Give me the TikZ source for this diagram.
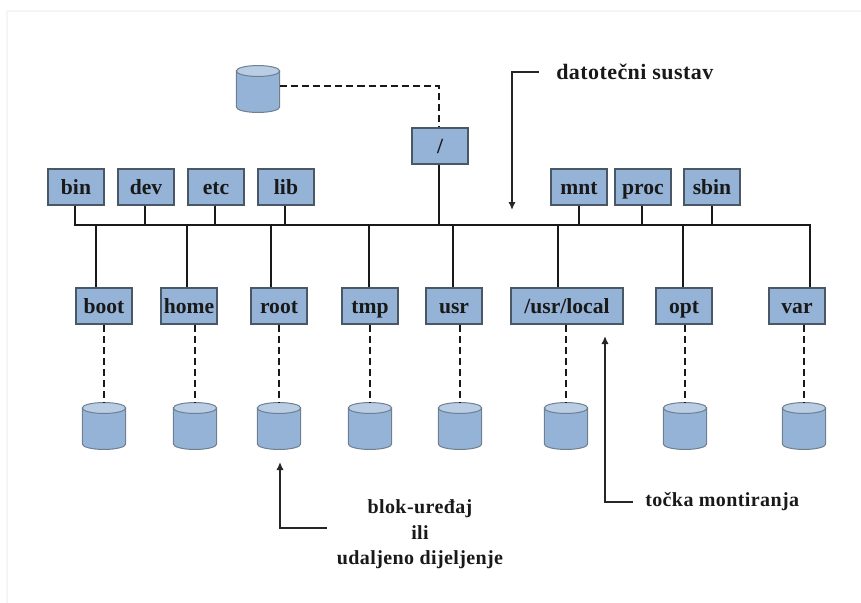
\documentclass[tikz,border=0pt]{standalone}
\usepackage{fontspec}
\setmainfont{Liberation Serif}
\newfontfamily\spacedfont[LetterSpace=2]{Liberation Serif}
\usetikzlibrary{arrows.meta}
\definecolor{boxblue}{HTML}{95B3D7}
\definecolor{boxedge}{HTML}{4A5766}
\definecolor{diskedge}{HTML}{6F7F8F}
\definecolor{disktop}{HTML}{B9CDE5}
\definecolor{framegray}{HTML}{F5F5F5}
\tikzset{
	dirbox/.style={draw=boxedge, fill=boxblue, line width=1pt, inner sep=0pt, minimum width=42pt, minimum height=27pt, text height=14pt, text depth=2.2pt, font=\fontsize{16.2}{18}\selectfont\bfseries, text=black!90},
	diskbox/.style={inner sep=0pt, minimum width=32.6pt, minimum height=35.2pt},
	diskline/.style={draw=diskedge, line width=0.75pt},
	busline/.style={line width=1.5pt, black!90},
	dashline/.style={line width=1.5pt, black!90, dash pattern=on 5.3pt off 3pt},
	noteline/.style={line width=1.5pt, black!85},
	notearrow/.style={noteline, -{Latex[length=6pt,width=5.5pt]}},
	notetext/.style={font=\fontsize{15}{19}\selectfont\bfseries\spacedfont, text=black!90, inner sep=0pt, align=center}
}
\def\disknode(#1)(#2,#3){
	\node[diskbox] (#1) at (#2, #3) {};
	\begin{scope}[shift={(#1.center)}, x=1pt, y=1pt]
		\draw[diskline, fill=boxblue] (-16.3, 13.5) -- (-16.3, -13.5) arc[start angle=180, end angle=360, x radius=16.3, y radius=4.1] -- (16.3, 13.5) -- cycle;
		\draw[diskline, fill=disktop] (0, 13.5) ellipse [x radius=16.3, y radius=4.1];
	\end{scope}
}

\begin{document}
\begin{tikzpicture}[x=0.75pt, y=-0.75pt]
	%%%%% FRAME %%%%%
	\useasboundingbox (0, 0) rectangle (861, 603);
	\draw[framegray, line width=1.5pt] (7, 603) -- (7, 11) -- (861, 11);

	%%%%% UPPER ROW %%%%%
	\node[dirbox] (bin) at (76, 187) {bin};
	\node[dirbox] (dev) at (146, 187) {dev};
	\node[dirbox] (etc) at (216, 187) {etc};
	\node[dirbox] (lib) at (286, 187) {lib};
	\node[dirbox] (rootdir) at (440, 146) {/};
	\node[dirbox] (mnt) at (579, 187) {mnt};
	\node[dirbox] (proc) at (643, 187) {proc};
	\node[dirbox] (sbin) at (712, 187) {sbin};

	%%%%% LOWER ROW %%%%%
	\node[dirbox] (boot) at (104, 306) {boot};
	\node[dirbox] (home) at (189, 306) {home};
	\node[dirbox] (root) at (279, 306) {root};
	\node[dirbox] (tmp) at (370, 306) {tmp};
	\node[dirbox] (usr) at (454, 306) {usr};
	\node[dirbox, minimum width=84pt] (local) at (567, 306) {/usr/local};
	\node[dirbox] (opt) at (684, 306) {opt};
	\node[dirbox] (var) at (797, 306) {var};

	%%%%% DISKS %%%%%
	\disknode(dtop)(258,89)
	\disknode(dboot)(104,426)
	\disknode(dhome)(195,426)
	\disknode(droot)(279,426)
	\disknode(dtmp)(370,426)
	\disknode(dusr)(460,426)
	\disknode(dlocal)(566,426)
	\disknode(dopt)(685,426)
	\disknode(dvar)(804,426)

	%%%%% BUS %%%%%
	\coordinate (tbin) at (75, 225);
	\coordinate (tdev) at (145, 225);
	\coordinate (tetc) at (215, 225);
	\coordinate (tlib) at (285, 225);
	\coordinate (troot) at (439, 225);
	\coordinate (tmnt) at (579, 225);
	\coordinate (tproc) at (642, 225);
	\coordinate (tsbin) at (712, 225);
	\coordinate (bboot) at (96, 225);
	\coordinate (bhome) at (187, 225);
	\coordinate (broot) at (271, 225);
	\coordinate (btmp) at (369, 225);
	\coordinate (busr) at (453, 225);
	\coordinate (blocal) at (558, 225);
	\coordinate (bopt) at (683, 225);
	\coordinate (bvar) at (810, 225);

	\draw[busline] (tbin |- bin.south) -- (tbin) -- (bvar) -- (bvar |- var.north);
	\draw[busline] (tdev) -- (tdev |- dev.south);
	\draw[busline] (tetc) -- (tetc |- etc.south);
	\draw[busline] (tlib) -- (tlib |- lib.south);
	\draw[busline] (troot) -- (troot |- rootdir.south);
	\draw[busline] (tmnt) -- (tmnt |- mnt.south);
	\draw[busline] (tproc) -- (tproc |- proc.south);
	\draw[busline] (tsbin) -- (tsbin |- sbin.south);

	\draw[busline] (bboot) -- (bboot |- boot.north);
	\draw[busline] (bhome) -- (bhome |- home.north);
	\draw[busline] (broot) -- (broot |- root.north);
	\draw[busline] (btmp) -- (btmp |- tmp.north);
	\draw[busline] (busr) -- (busr |- usr.north);
	\draw[busline] (blocal) -- (blocal |- local.north);
	\draw[busline] (bopt) -- (bopt |- opt.north);

	%%%%% DASHED %%%%%
	\coordinate (turn) at (439, 86);
	\draw[dashline] (dtop.east |- turn) -- (turn) -- (turn |- rootdir.north);
	\draw[dashline] (boot.south -| dboot.north) -- (dboot.north);
	\draw[dashline] (home.south -| dhome.north) -- (dhome.north);
	\draw[dashline] (root.south -| droot.north) -- (droot.north);
	\draw[dashline] (tmp.south -| dtmp.north) -- (dtmp.north);
	\draw[dashline] (usr.south -| dusr.north) -- (dusr.north);
	\draw[dashline] (local.south -| dlocal.north) -- (dlocal.north);
	\draw[dashline] (opt.south -| dopt.north) -- (dopt.north);
	\draw[dashline] (var.south -| dvar.north) -- (dvar.north);

	%%%%% NOTES %%%%%
	\node[notetext, font=\fontsize{16.5}{19}\selectfont\bfseries\spacedfont, anchor=west] (fsnote) at (556, 71.5) {datotečni sustav};
	\node[notetext, anchor=west] (mountnote) at (645, 501.5) {točka montiranja};
	\node[notetext] (devnote) at (420, 534.5) {blok-uređaj\\ili\\udaljeno dijeljenje};

	\coordinate (fsstart) at (539, 72);
	\coordinate (fstip) at (512, 210);
	\draw[notearrow] (fsstart) -- (fstip |- fsstart) -- (fstip);
	\coordinate (mountstart) at (633, 502);
	\coordinate (mounttip) at (605, 336);
	\draw[notearrow] (mountstart) -- (mounttip |- mountstart) -- (mounttip);
	\coordinate (devstart) at (327, 528);
	\coordinate (devtip) at (280, 462);
	\draw[notearrow] (devstart) -- (devtip |- devstart) -- (devtip);
\end{tikzpicture}
\end{document}
